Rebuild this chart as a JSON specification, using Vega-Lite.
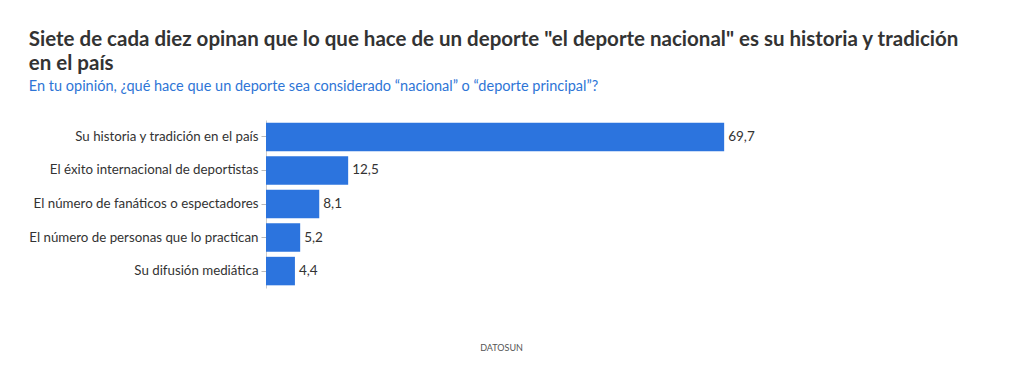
{
  "$schema": "https://vega.github.io/schema/vega-lite/v6.json",
  "width": 470,
  "height": 168,
  "padding": {"left": 28, "top": 30, "right": 5, "bottom": 5},
  "background": "white",
  "title": {
    "text": ["Siete de cada diez opinan que lo que hace de un deporte \"el deporte nacional\" es su historia y tradición", "en el país"],
    "subtitle": "En tu opinión, ¿qué hace que un deporte sea considerado “nacional” o “deporte principal”?",
    "anchor": "start",
    "frame": "bounds",
    "font": "Lato",
    "fontSize": 20.5,
    "fontWeight": "bold",
    "color": "#333333",
    "lineHeight": 24,
    "subtitleFont": "Lato",
    "subtitleFontSize": 14.5,
    "subtitleColor": "#2e75d6",
    "subtitlePadding": 5,
    "offset": 27
  },
  "data": {
    "values": [
      {"respuesta": "Su historia y tradición en el país", "valor": 69.7},
      {"respuesta": "El éxito internacional de deportistas", "valor": 12.5},
      {"respuesta": "El número de fanáticos o espectadores", "valor": 8.1},
      {"respuesta": "El número de personas que lo practican", "valor": 5.2},
      {"respuesta": "Su difusión mediática", "valor": 4.4}
    ]
  },
  "encoding": {
    "y": {
      "field": "respuesta",
      "type": "nominal",
      "sort": null,
      "scale": {"paddingInner": 0.15, "paddingOuter": 0.08},
      "axis": {
        "title": null,
        "labelFont": "Lato",
        "labelFontSize": 13.3,
        "labelColor": "#333333",
        "labelPadding": 3,
        "labelLimit": 0,
        "tickColor": "#bbbbbb",
        "tickSize": 5,
        "domainColor": "#cccccc"
      }
    },
    "x": {
      "field": "valor",
      "type": "quantitative",
      "scale": {"domain": [0, 71.5]},
      "axis": {
        "title": "DATOSUN",
        "titleFont": "Lato",
        "titleFontSize": 9,
        "titleFontWeight": "normal",
        "titleColor": "#555555",
        "titlePadding": 55,
        "labels": false,
        "ticks": false,
        "domain": false,
        "grid": false
      }
    }
  },
  "layer": [
    {"mark": {"type": "bar", "color": "#2c74de"}},
    {
      "mark": {"type": "text", "align": "left", "dx": 4, "font": "Lato", "fontSize": 13.5, "color": "#333333"},
      "encoding": {"text": {"field": "valor", "type": "quantitative", "format": ".1f"}}
    }
  ],
  "config": {
    "view": {"stroke": null},
    "locale": {"number": {"decimal": ",", "thousands": ".", "grouping": [3], "currency": ["$", ""]}}
  }
}
